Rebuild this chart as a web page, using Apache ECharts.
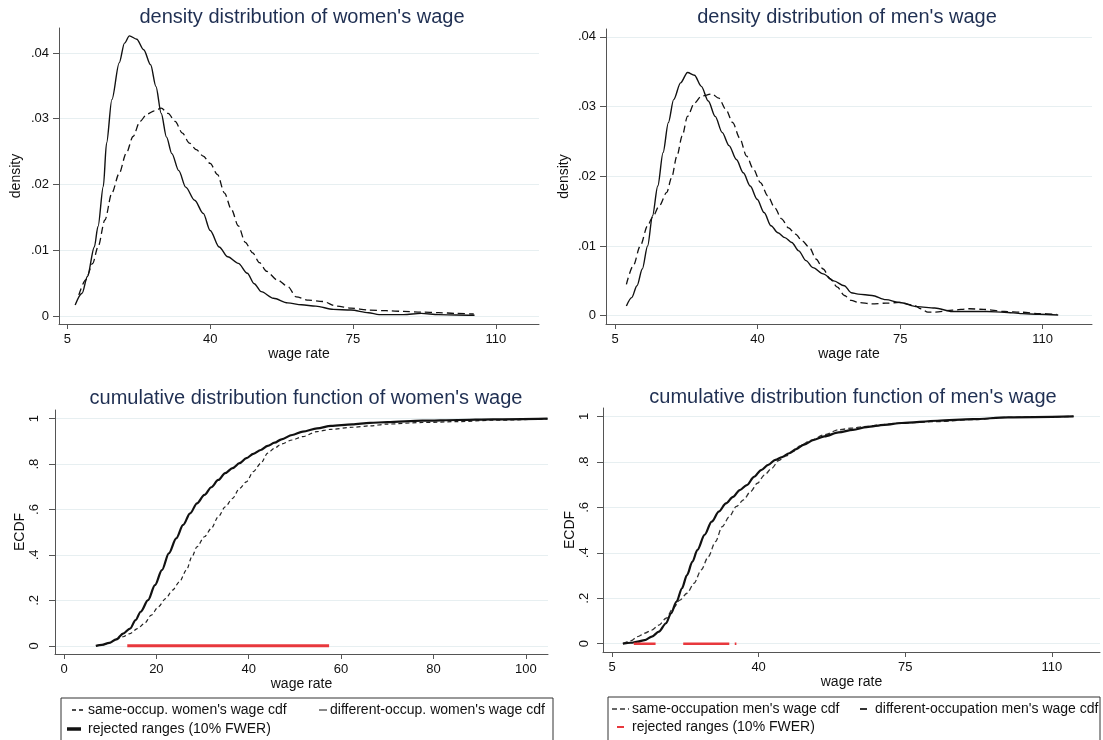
<!DOCTYPE html>
<html><head><meta charset="utf-8">
<script src="https://cdn.jsdelivr.net/npm/echarts@6/dist/echarts.min.js"></script>
<style>html,body{margin:0;padding:0;background:#fff}#c{width:1103px;height:740px}</style>
</head><body><div id="c"></div>
<script>
// ---------- data ----------
const womenDensityDiff = [[6.9,0.00167],[8.6,0.00345],[9.9,0.0060],[11.6,0.0105],[12.5,0.0136],[13.8,0.0197],[14.6,0.0263],[15.9,0.0329],[17.7,0.0385],[19.0,0.0415],[20.2,0.0426],[22.0,0.0421],[23.7,0.0405],[25.4,0.0382],[26.7,0.0349],[28.0,0.0308],[29.3,0.0272],[30.6,0.0247],[32.3,0.0221],[34.0,0.0196],[36.2,0.0176],[38.3,0.0156],[40.0,0.0130],[42.2,0.0105],[44.3,0.0090],[46.9,0.0080],[49.1,0.0065],[50.8,0.0049],[52.5,0.0037],[55.5,0.0027],[59.0,0.0020],[62.4,0.0017],[65.9,0.0015],[70.2,0.0010],[74.5,0.0009],[78.8,0.0005],[81.4,0.0002],[87.4,0.0002],[91.7,0.0004],[96.0,0.0002],[100.3,0.00015],[104.8,0.0001]];
const womenDensitySame = [[7.8,0.0032],[9.5,0.0055],[11.2,0.0080],[12.5,0.0105],[14.2,0.0146],[15.9,0.0187],[17.7,0.0217],[19.4,0.0247],[21.1,0.0273],[22.8,0.0296],[24.5,0.0307],[26.3,0.0312],[28.0,0.0316],[29.7,0.0308],[31.4,0.0296],[33.2,0.0278],[34.9,0.0263],[36.6,0.0253],[38.3,0.0243],[40.0,0.0232],[41.8,0.0215],[43.5,0.0187],[45.2,0.0162],[46.9,0.0137],[48.6,0.0112],[50.4,0.0096],[52.1,0.0081],[53.8,0.0068],[56.4,0.0055],[59.0,0.0045],[61.1,0.0029],[64.1,0.0024],[67.6,0.0022],[71.0,0.0015],[74.5,0.0012],[78.8,0.0009],[83.1,0.0008],[87.4,0.0007],[91.7,0.0006],[96.0,0.0005],[100.3,0.0004],[104.6,0.0003]];
const menDensityDiff = [[7.8,0.0014],[9.1,0.0026],[10.4,0.0043],[11.7,0.0067],[13.0,0.0100],[14.2,0.0143],[15.5,0.0186],[16.8,0.0234],[18.1,0.0277],[19.4,0.0310],[21.1,0.0334],[22.8,0.0349],[24.5,0.0345],[26.2,0.0329],[27.9,0.0308],[29.6,0.0286],[31.3,0.0263],[33.0,0.0244],[34.8,0.0224],[36.5,0.0205],[38.2,0.0186],[39.9,0.0167],[41.6,0.0148],[43.3,0.0129],[45.0,0.0119],[46.7,0.0112],[48.4,0.0105],[50.1,0.0093],[51.9,0.0079],[53.6,0.0069],[56.1,0.0060],[58.7,0.0050],[61.3,0.0043],[63.0,0.0033],[64.7,0.0031],[68.1,0.0029],[71.5,0.0023],[74.9,0.0019],[79.2,0.0013],[83.5,0.0011],[87.8,0.0006],[92.0,0.0006],[96.3,0.0006],[100.6,0.0005],[104.9,0.0003],[109.1,0.0002],[113.8,0.0001]];
const menDensitySame = [[7.8,0.0045],[9.5,0.0072],[11.2,0.0100],[13.0,0.0129],[14.2,0.0141],[15.9,0.0158],[17.7,0.0177],[18.9,0.0198],[20.2,0.0229],[21.5,0.0258],[22.8,0.0286],[24.5,0.0305],[26.2,0.0315],[28.8,0.0318],[30.5,0.0312],[32.2,0.0296],[33.9,0.0277],[35.6,0.0255],[37.3,0.0229],[39.0,0.0210],[40.7,0.0191],[42.5,0.0172],[44.2,0.0155],[45.9,0.0139],[47.6,0.0126],[49.3,0.0117],[51.0,0.0107],[52.7,0.0098],[54.4,0.0081],[56.1,0.0067],[57.8,0.0053],[59.6,0.0041],[61.3,0.0029],[63.0,0.0022],[64.7,0.0019],[68.1,0.0017],[71.5,0.0018],[74.9,0.0019],[78.4,0.0015],[80.1,0.0010],[81.8,0.0005],[83.5,0.0005],[87.8,0.0008],[92.0,0.0010],[95.5,0.0009],[100.6,0.0006],[104.9,0.0005],[109.1,0.0003],[113.4,0.0002]];
const womenCdfDiff = [[6.9,0],[8.2,0.004],[9.8,0.013],[11.3,0.028],[12.8,0.054],[14.3,0.076],[15.5,0.113],[16.6,0.150],[18.2,0.201],[19.7,0.267],[21.2,0.333],[22.7,0.407],[24.3,0.473],[25.8,0.532],[27.3,0.583],[28.8,0.627],[30.4,0.664],[31.9,0.698],[33.4,0.730],[34.9,0.760],[36.5,0.782],[38.0,0.804],[39.5,0.826],[41.0,0.845],[42.6,0.862],[44.1,0.880],[45.6,0.894],[47.1,0.909],[49.4,0.928],[51.7,0.943],[54.8,0.957],[57.8,0.968],[62.4,0.975],[66.2,0.981],[70.0,0.985],[77.6,0.991],[85.3,0.994],[92.9,0.997],[104.7,1.0]];
const womenCdfSame = [[6.9,0],[8.2,0.004],[9.8,0.013],[11.3,0.028],[12.8,0.040],[14.3,0.054],[15.9,0.076],[17.4,0.098],[18.9,0.135],[20.4,0.171],[22.0,0.208],[23.5,0.245],[25.0,0.282],[26.5,0.333],[27.7,0.392],[28.8,0.436],[30.4,0.480],[31.9,0.517],[33.4,0.568],[34.9,0.612],[36.5,0.649],[38.0,0.693],[39.5,0.722],[41.0,0.767],[42.6,0.803],[44.1,0.848],[45.6,0.870],[47.1,0.889],[49.4,0.906],[51.7,0.921],[54.8,0.943],[57.8,0.953],[62.4,0.962],[66.2,0.968],[70.0,0.976],[77.6,0.983],[85.3,0.987],[92.9,0.993],[104.7,0.999]];
const menCdfDiff = [[7.6,0],[9.5,0.004],[11.1,0.009],[12.8,0.016],[14.5,0.031],[16.2,0.053],[17.9,0.090],[19.1,0.134],[20.4,0.185],[21.7,0.244],[22.9,0.302],[24.2,0.361],[25.4,0.413],[27.1,0.479],[28.8,0.537],[30.5,0.581],[32.2,0.617],[33.9,0.646],[35.5,0.676],[37.2,0.698],[38.9,0.734],[40.6,0.764],[42.3,0.787],[44.0,0.809],[45.6,0.821],[47.3,0.838],[49.0,0.856],[50.7,0.875],[53.2,0.897],[55.7,0.912],[59.1,0.930],[62.5,0.941],[65.8,0.953],[70.0,0.963],[74.2,0.971],[82.7,0.981],[91.1,0.988],[99.5,0.996],[115.2,1.0]];
const menCdfSame = [[7.6,0],[9.5,0.013],[11.1,0.031],[12.8,0.046],[14.5,0.060],[16.2,0.082],[17.9,0.112],[19.6,0.156],[21.2,0.192],[22.9,0.222],[24.6,0.266],[26.3,0.325],[28.0,0.383],[29.7,0.449],[31.3,0.515],[33.0,0.559],[34.7,0.604],[36.4,0.633],[38.1,0.670],[39.7,0.706],[41.4,0.742],[43.1,0.771],[44.8,0.806],[46.5,0.826],[48.2,0.845],[49.8,0.870],[52.4,0.894],[55.7,0.919],[59.1,0.941],[62.5,0.949],[65.8,0.956],[70.0,0.965],[74.2,0.971],[82.7,0.977],[91.1,0.986],[99.5,0.996],[115.2,1.0]];
const womenRejected = [[13.7,57.4]];
const menRejected = [[10.2,15.4],[22.0,33.0],[34.3,34.7]];

const densityXTicks = [5,40,75,110];
const densityYTicks = [0,0.01,0.02,0.03,0.04];
const densityYLabels = ['0','.01','.02','.03','.04'];
const womenCdfXTicks = [0,20,40,60,80,100];
const menCdfXTicks = [5,40,75,110];
const cdfYTicks = [0,0.2,0.4,0.6,0.8,1];
const cdfYLabels = ['0','.2','.4','.6','.8','1'];

const titles = ["density distribution of women's wage","density distribution of men's wage","cumulative distribution function of women's wage","cumulative distribution function of men's wage"];
const womenLegend = ["same-occup. women's wage cdf","different-occup. women's wage cdf","rejected ranges (10% FWER)"];
const menLegend = ["same-occupation men's wage cdf","different-occupation men's wage cdf","rejected ranges (10% FWER)"];

// ---------- chart ----------
const FONT = '"Liberation Sans", Arial, sans-serif';
const AX = '#555';
const GRIDC = '#e7eff1';
const TITLEC = '#1f2f52';
const RED = '#e8383d';

const grids = [
  {left:59, top:28, width:480, height:296},
  {left:606, top:29, width:486, height:295},
  {left:55, top:410, width:493, height:244},
  {left:603, top:408, width:497, height:244}
];

function labelFmt(ticks, labels){
  return v => { const i = ticks.findIndex(t => Math.abs(t - v) < 1e-9); return i >= 0 ? labels[i] : ''; };
}
function xAx(gi, min, max, ticks){
  return {type:'value', gridIndex:gi, min, max, name:'wage rate', nameLocation:'middle', nameGap:23,
    nameTextStyle:{fontFamily:FONT, fontSize:14, color:'#111'},
    axisLine:{show:true, onZero:false, lineStyle:{color:AX, width:1}},
    axisTick:{show:true, customValues:ticks, length:5, lineStyle:{color:AX}},
    axisLabel:{customValues:ticks, margin:9, fontFamily:FONT, fontSize:13, color:'#111', formatter: v => String(v)},
    splitLine:{show:false}};
}
function yAx(gi, min, max, ticks, labels, name, gap, rotate, margin){
  return {type:'value', gridIndex:gi, min, max, name, nameLocation:'middle', nameGap:gap,
    nameTextStyle:{fontFamily:FONT, fontSize:14, color:'#111'},
    axisLine:{show:true, onZero:false, lineStyle:{color:AX, width:1}},
    axisTick:{show:true, customValues:ticks, length:6, lineStyle:{color:AX}},
    axisLabel:{customValues:ticks, margin, rotate, fontFamily:FONT, fontSize:13, color:'#111', formatter: labelFmt(ticks, labels)},
    splitLine:{show:false}};
}
function gridLines(gi, ticks){
  return {type:'line', xAxisIndex:gi, yAxisIndex:gi, data:[], z:0, silent:true,
    markLine:{silent:true, z:0, symbol:'none', label:{show:false}, animation:false,
      lineStyle:{color:GRIDC, type:'solid', width:1},
      data: ticks.map(t => ({yAxis:t}))}};
}
function curve(gi, data, width, dash, color){
  return {type:'line', xAxisIndex:gi, yAxisIndex:gi, data, showSymbol:false, symbol:'none', smooth:0.3, smoothMonotone:'x',
    z:3, lineStyle:{color: color || '#111', width, type: dash || 'solid'}, animation:false};
}
function rejected(gi, ranges, width){
  const data = [];
  ranges.forEach((r, i) => { if (i) data.push(null); data.push([r[0],0],[r[1],0]); });
  return {type:'line', xAxisIndex:gi, yAxisIndex:gi, data, showSymbol:false, symbol:'none', connectNulls:false,
    z:6, lineStyle:{color:RED, width, cap:'butt'}, animation:false};
}

function txt(x, y, s, size, color, align){
  return {type:'text', x, y, style:{text:s, fontFamily:FONT, fontSize:size, fill:color||'#111', align:align||'left', verticalAlign:'middle'}};
}
function seg(x1, x2, y, w, color, dash){
  return {type:'line', shape:{x1, y1:y, x2, y2:y}, style:{stroke:color, lineWidth:w, lineDash:dash||null}};
}

const graphics = [
  txt(302, 17, titles[0], 20, TITLEC, 'center'),
  txt(847, 17, titles[1], 20, TITLEC, 'center'),
  txt(306, 398, titles[2], 20, TITLEC, 'center'),
  txt(853, 397, titles[3], 20, TITLEC, 'center'),
  {type:'rect', shape:{x:61, y:698, width:492, height:60}, style:{fill:'none', stroke:'#333', lineWidth:1}},
  seg(72, 86, 710, 1.5, '#111', [4,3]), txt(88, 710, womenLegend[0], 14),
  seg(319, 327, 710, 1, '#111'), txt(330, 710, womenLegend[1], 14),
  seg(67, 81, 729, 3.5, '#111'), txt(88, 729, womenLegend[2], 14),
  {type:'rect', shape:{x:608, y:697, width:492, height:60}, style:{fill:'none', stroke:'#333', lineWidth:1}},
  seg(612, 629, 709, 2, '#666', [5,3]), txt(632, 709, menLegend[0], 14),
  seg(860, 867, 709, 2, '#333'), txt(875, 709, menLegend[1], 14),
  seg(617, 624, 727, 2, RED), txt(632, 727, menLegend[2], 14)
];

const option = {
  backgroundColor:'#fff',
  animation:false,
  grid: grids,
  xAxis: [
    xAx(0, 2.94, 120.6, densityXTicks),
    xAx(1, 2.79, 122.1, densityXTicks),
    xAx(2, -1.95, 104.8, womenCdfXTicks),
    xAx(3, 2.85, 121.5, menCdfXTicks)
  ],
  yAxis: [
    yAx(0, -0.00122, 0.0438, densityYTicks, densityYLabels, 'density', 36, 0, 10),
    yAx(1, -0.00119, 0.04113, densityYTicks, densityYLabels, 'density', 35, 0, 10),
    yAx(2, -0.036, 1.038, cdfYTicks, cdfYLabels, 'ECDF', 24, 90, 14),
    yAx(3, -0.0366, 1.037, cdfYTicks, cdfYLabels, 'ECDF', 23, 90, 12)
  ],
  series: [
    gridLines(0, densityYTicks), gridLines(1, densityYTicks), gridLines(2, cdfYTicks), gridLines(3, cdfYTicks),
    curve(0, womenDensityDiff, 1.4),
    curve(0, womenDensitySame, 1.3, [7,4]),
    curve(1, menDensityDiff, 1.4),
    curve(1, menDensitySame, 1.3, [7,4]),
    rejected(2, womenRejected, 3),
    curve(2, womenCdfSame, 1.2, [4,3], '#222'),
    curve(2, womenCdfDiff, 2.2),
    rejected(3, menRejected, 2.6),
    curve(3, menCdfSame, 1.3, [5,3], '#333'),
    curve(3, menCdfDiff, 2.2)
  ],
  graphic: graphics
};
const chart = echarts.init(document.getElementById('c'), null, {renderer:'canvas'});
chart.setOption(option);
</script></body></html>
